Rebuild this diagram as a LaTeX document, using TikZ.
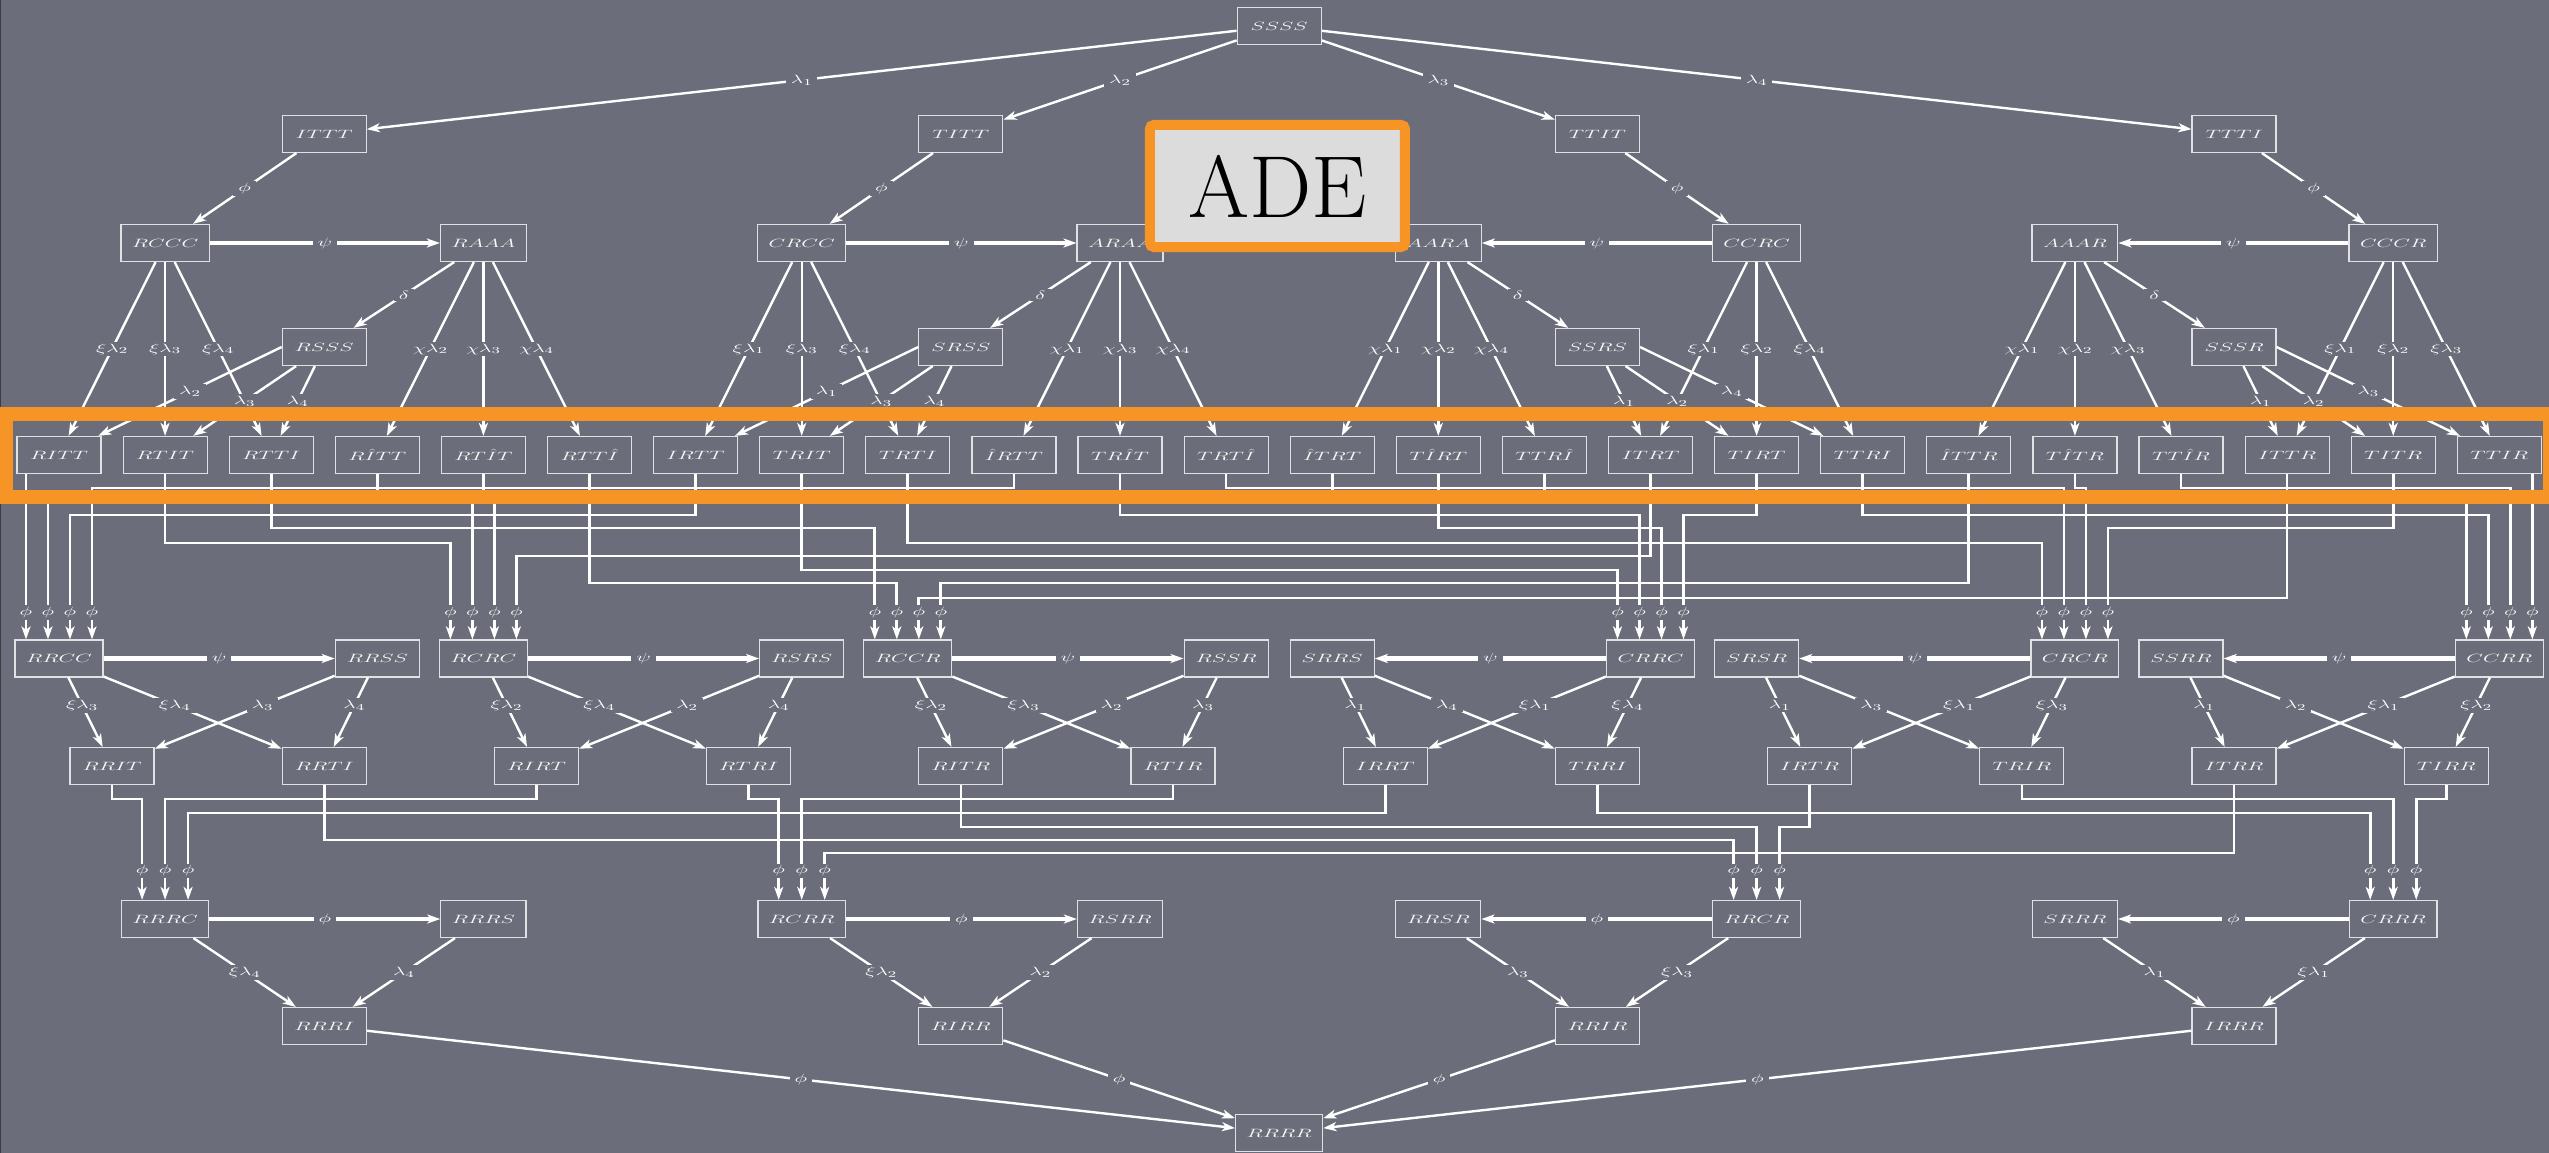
\documentclass[tikz,border=0pt]{standalone}
\usepackage{graphicx}
\usepackage{tikz}
\usetikzlibrary{arrows.meta}

\definecolor{bg}{RGB}{107,110,122}
\definecolor{frame}{RGB}{247,148,38}
\definecolor{boxline}{RGB}{225,225,228}
\definecolor{adefill}{RGB}{220,220,220}
\newcommand{\stx}[1]{\scalebox{1.8}[1]{$#1$}}

\begin{document}
\begin{tikzpicture}[x=106.1pt,y=-1pt,>={Stealth[length=13pt,width=9pt,inset=3.5pt]},
  cell/.style={draw=boxline,line width=1.2pt,text=white!95!bg,minimum width=84pt,minimum height=37pt,inner xsep=11pt,font=\fontsize{13}{15}\selectfont},
  lab/.style={fill=bg,text=white,inner xsep=5pt,inner ysep=2pt,font=\fontsize{13}{15}\selectfont},
  link/.style={->,white,line width=2.4pt},
  bold/.style={->,white,line width=4.4pt},
  wire/.style={->,white,line width=2.7pt},
  in5/.style={lab,inner xsep=3pt,yshift=27pt},
  in7/.style={lab,inner xsep=3pt,yshift=29pt}]

  \fill[bg] (-0.5561,0) rectangle (23.4684,1153);
  \useasboundingbox (-0.5561,0) rectangle (23.4684,1153);
  \draw[bg!55!black,line width=2pt] (-0.5561,0) -- (-0.5561,1153);

  % top
  \node[cell] (ssss) at (11.5,26)  {\stx{SSSS}};
  \node[cell] (ittt) at (2.5,134)  {\stx{ITTT}};
  \node[cell] (titt) at (8.5,134)  {\stx{TITT}};
  \node[cell] (ttit) at (14.5,134) {\stx{TTIT}};
  \node[cell] (ttti) at (20.5,134) {\stx{TTTI}};

  \node[cell] (rccc) at (1,243)  {\stx{RCCC}};
  \node[cell] (raaa) at (4,243)  {\stx{RAAA}};
  \node[cell] (crcc) at (7,243)  {\stx{CRCC}};
  \node[cell] (araa) at (10,243) {\stx{ARAA}};
  \node[cell] (aara) at (13,243) {\stx{AARA}};
  \node[cell] (ccrc) at (16,243) {\stx{CCRC}};
  \node[cell] (aaar) at (19,243) {\stx{AAAR}};
  \node[cell] (cccr) at (22,243) {\stx{CCCR}};

  \node[cell] (rsss) at (2.5,347)  {\stx{RSSS}};
  \node[cell] (srss) at (8.5,347)  {\stx{SRSS}};
  \node[cell] (ssrs) at (14.5,347) {\stx{SSRS}};
  \node[cell] (sssr) at (20.5,347) {\stx{SSSR}};

  % middle row
  \foreach \n/\t [count=\i from 0] in {ritt/RITT, rtit/RTIT, rtti/RTTI, rjtt/R\hat{I}TT,
      rtjt/RT\hat{I}T, rttj/RTT\hat{I}, irtt/IRTT, trit/TRIT, trti/TRTI, jrtt/\hat{I}RTT,
      trjt/TR\hat{I}T, trtj/TRT\hat{I}, jtrt/\hat{I}TRT, tjrt/T\hat{I}RT, ttrj/TTR\hat{I},
      itrt/ITRT, tirt/TIRT, ttri/TTRI, jttr/\hat{I}TTR, tjtr/T\hat{I}TR, ttjr/TT\hat{I}R,
      ittr/ITTR, titr/TITR, ttir/TTIR}
    \node[cell] (\n) at (\i,455) {\stx{\t}};

  % lower part
  \foreach \n/\t/\c in {rrcc/RRCC/0, rrss/RRSS/3, rcrc/RCRC/4, rsrs/RSRS/7, rccr/RCCR/8,
      rssr/RSSR/11, srrs/SRRS/12, crrc/CRRC/15, srsr/SRSR/16, crcr/CRCR/19,
      ssrr/SSRR/20, ccrr/CCRR/23}
    \node[cell] (\n) at (\c,658.5) {\stx{\t}};
  \foreach \n/\t/\c in {rrit/RRIT/.5, rrti/RRTI/2.5, rirt/RIRT/4.5, rtri/RTRI/6.5,
      ritr/RITR/8.5, rtir/RTIR/10.5, irrt/IRRT/12.5, trri/TRRI/14.5, irtr/IRTR/16.5,
      trir/TRIR/18.5, itrr/ITRR/20.5, tirr/TIRR/22.5}
    \node[cell] (\n) at (\c,766) {\stx{\t}};
  \foreach \n/\t/\c in {rrrc/RRRC/1, rrrs/RRRS/4, rcrr/RCRR/7, rsrr/RSRR/10,
      rrsr/RRSR/13, rrcr/RRCR/16, srrr/SRRR/19, crrr/CRRR/22}
    \node[cell] (\n) at (\c,919) {\stx{\t}};
  \node[cell] (rrri) at (2.5,1026)  {\stx{RRRI}};
  \node[cell] (rirr) at (8.5,1026)  {\stx{RIRR}};
  \node[cell] (rrir) at (14.5,1026) {\stx{RRIR}};
  \node[cell] (irrr) at (20.5,1026) {\stx{IRRR}};
  \node[cell] (rrrr) at (11.5,1133) {\stx{RRRR}};

  % inputs and tracks
  \foreach \n in {rrcc,rcrc,rccr,crrc,crcr,ccrr}
    \foreach \k/\d in {1/-33,2/-11,3/11,4/33}
      \coordinate (\n-\k) at ([xshift=\d pt]\n.north);
  \foreach \n in {rrrc,rcrr,rrcr,crrr}
    \foreach \k/\d in {1/-23,2/0,3/23}
      \coordinate (\n-\k) at ([xshift=\d pt]\n.north);
  \foreach \h in {488,497,515,528,543,556,570,583,598,799,813,827,840,853}
    \coordinate (h\h) at (0,\h);

  \path[link]
    (ssss) edge node[lab] {\stx{\lambda_1}} (ittt)
    (ssss) edge node[lab] {\stx{\lambda_2}} (titt)
    (ssss) edge node[lab] {\stx{\lambda_3}} (ttit)
    (ssss) edge node[lab] {\stx{\lambda_4}} (ttti)
    (ittt) edge node[lab] {\stx{\phi}} (rccc)
    (titt) edge node[lab] {\stx{\phi}} (crcc)
    (ttit) edge node[lab] {\stx{\phi}} (ccrc)
    (ttti) edge node[lab] {\stx{\phi}} (cccr)
    (raaa) edge node[lab] {\stx{\delta}} (rsss)
    (araa) edge node[lab] {\stx{\delta}} (srss)
    (aara) edge node[lab] {\stx{\delta}} (ssrs)
    (aaar) edge node[lab] {\stx{\delta}} (sssr)
    % first group
    (rccc) edge node[lab] {\stx{\xi\lambda_2}} (ritt)
    (rccc) edge node[lab] {\stx{\xi\lambda_3}} (rtit)
    (rccc) edge node[lab] {\stx{\xi\lambda_4}} (rtti)
    (raaa) edge node[lab] {\stx{\chi\lambda_2}} (rjtt)
    (raaa) edge node[lab] {\stx{\chi\lambda_3}} (rtjt)
    (raaa) edge node[lab] {\stx{\chi\lambda_4}} (rttj)
    (rsss.west) edge node[lab] {\stx{\lambda_2}} (ritt)
    (rsss) edge node[lab] {\stx{\lambda_3}} (rtit)
    (rsss) edge node[lab] {\stx{\lambda_4}} (rtti)
    % second group
    (crcc) edge node[lab] {\stx{\xi\lambda_1}} (irtt)
    (crcc) edge node[lab] {\stx{\xi\lambda_3}} (trit)
    (crcc) edge node[lab] {\stx{\xi\lambda_4}} (trti)
    (araa) edge node[lab] {\stx{\chi\lambda_1}} (jrtt)
    (araa) edge node[lab] {\stx{\chi\lambda_3}} (trjt)
    (araa) edge node[lab] {\stx{\chi\lambda_4}} (trtj)
    (srss.west) edge node[lab] {\stx{\lambda_1}} (irtt)
    (srss) edge node[lab] {\stx{\lambda_3}} (trit)
    (srss) edge node[lab] {\stx{\lambda_4}} (trti)
    % third group
    (aara) edge node[lab] {\stx{\chi\lambda_1}} (jtrt)
    (aara) edge node[lab] {\stx{\chi\lambda_2}} (tjrt)
    (aara) edge node[lab] {\stx{\chi\lambda_4}} (ttrj)
    (ccrc) edge node[lab] {\stx{\xi\lambda_1}} (itrt)
    (ccrc) edge node[lab] {\stx{\xi\lambda_2}} (tirt)
    (ccrc) edge node[lab] {\stx{\xi\lambda_4}} (ttri)
    (ssrs) edge node[lab] {\stx{\lambda_1}} (itrt)
    (ssrs) edge node[lab] {\stx{\lambda_2}} (tirt)
    (ssrs.east) edge node[lab] {\stx{\lambda_4}} (ttri)
    % fourth group
    (aaar) edge node[lab] {\stx{\chi\lambda_1}} (jttr)
    (aaar) edge node[lab] {\stx{\chi\lambda_2}} (tjtr)
    (aaar) edge node[lab] {\stx{\chi\lambda_3}} (ttjr)
    (cccr) edge node[lab] {\stx{\xi\lambda_1}} (ittr)
    (cccr) edge node[lab] {\stx{\xi\lambda_2}} (titr)
    (cccr) edge node[lab] {\stx{\xi\lambda_3}} (ttir)
    (sssr) edge node[lab] {\stx{\lambda_1}} (ittr)
    (sssr) edge node[lab] {\stx{\lambda_2}} (titr)
    (sssr.east) edge node[lab] {\stx{\lambda_3}} (ttir);

  \path[link]
    (rrcc) edge node[lab,pos=.4] {\stx{\xi\lambda_3}} (rrit)
    (rrcc) edge node[lab,pos=.4] {\stx{\xi\lambda_4}} (rrti)
    (rrss) edge node[lab,pos=.4] {\stx{\lambda_3}} (rrit)
    (rrss) edge node[lab,pos=.4] {\stx{\lambda_4}} (rrti)
    (rcrc) edge node[lab,pos=.4] {\stx{\xi\lambda_2}} (rirt)
    (rcrc) edge node[lab,pos=.4] {\stx{\xi\lambda_4}} (rtri)
    (rsrs) edge node[lab,pos=.4] {\stx{\lambda_2}} (rirt)
    (rsrs) edge node[lab,pos=.4] {\stx{\lambda_4}} (rtri)
    (rccr) edge node[lab,pos=.4] {\stx{\xi\lambda_2}} (ritr)
    (rccr) edge node[lab,pos=.4] {\stx{\xi\lambda_3}} (rtir)
    (rssr) edge node[lab,pos=.4] {\stx{\lambda_2}} (ritr)
    (rssr) edge node[lab,pos=.4] {\stx{\lambda_3}} (rtir)
    (srrs) edge node[lab,pos=.4] {\stx{\lambda_1}} (irrt)
    (srrs) edge node[lab,pos=.4] {\stx{\lambda_4}} (trri)
    (crrc) edge node[lab,pos=.4] {\stx{\xi\lambda_1}} (irrt)
    (crrc) edge node[lab,pos=.4] {\stx{\xi\lambda_4}} (trri)
    (srsr) edge node[lab,pos=.4] {\stx{\lambda_1}} (irtr)
    (srsr) edge node[lab,pos=.4] {\stx{\lambda_3}} (trir)
    (crcr) edge node[lab,pos=.4] {\stx{\xi\lambda_1}} (irtr)
    (crcr) edge node[lab,pos=.4] {\stx{\xi\lambda_3}} (trir)
    (ssrr) edge node[lab,pos=.4] {\stx{\lambda_1}} (itrr)
    (ssrr) edge node[lab,pos=.4] {\stx{\lambda_2}} (tirr)
    (ccrr) edge node[lab,pos=.4] {\stx{\xi\lambda_1}} (itrr)
    (ccrr) edge node[lab,pos=.4] {\stx{\xi\lambda_2}} (tirr)
    % bottom
    (rrrc) edge node[lab] {\stx{\xi\lambda_4}} (rrri)
    (rrrs) edge node[lab] {\stx{\lambda_4}} (rrri)
    (rcrr) edge node[lab] {\stx{\xi\lambda_2}} (rirr)
    (rsrr) edge node[lab] {\stx{\lambda_2}} (rirr)
    (rrsr) edge node[lab] {\stx{\lambda_3}} (rrir)
    (rrcr) edge node[lab] {\stx{\xi\lambda_3}} (rrir)
    (srrr) edge node[lab] {\stx{\lambda_1}} (irrr)
    (crrr) edge node[lab] {\stx{\xi\lambda_1}} (irrr)
    (rrri) edge node[lab] {\stx{\phi}} (rrrr)
    (rirr) edge node[lab] {\stx{\phi}} (rrrr)
    (rrir) edge node[lab] {\stx{\phi}} (rrrr)
    (irrr) edge node[lab] {\stx{\phi}} (rrrr);

  \path[bold]
    (rccc) edge node[lab] {\stx{\psi}} (raaa)
    (crcc) edge node[lab] {\stx{\psi}} (araa)
    (ccrc) edge node[lab] {\stx{\psi}} (aara)
    (cccr) edge node[lab] {\stx{\psi}} (aaar)
    (rrcc) edge node[lab] {\stx{\psi}} (rrss)
    (rcrc) edge node[lab] {\stx{\psi}} (rsrs)
    (rccr) edge node[lab] {\stx{\psi}} (rssr)
    (crrc) edge node[lab] {\stx{\psi}} (srrs)
    (crcr) edge node[lab] {\stx{\psi}} (srsr)
    (ccrr) edge node[lab] {\stx{\psi}} (ssrr)
    (rrrc) edge node[lab] {\stx{\phi}} (rrrs)
    (rcrr) edge node[lab] {\stx{\phi}} (rsrr)
    (rrcr) edge node[lab] {\stx{\phi}} (rrsr)
    (crrr) edge node[lab] {\stx{\phi}} (srrr);

  % wiring from the middle row
  \draw[wire] (ritt.south -| rrcc-1) -- (rrcc-1) node[in5] {\stx{\phi}};
  \draw[wire] (ttir.south -| ccrr-4) -- (ccrr-4) node[in5] {\stx{\phi}};
  \foreach \s/\t/\h in {rjtt/rrcc-2/497, irtt/rrcc-3/515, jrtt/rrcc-4/488,
      rtit/rcrc-1/543, rtjt/rcrc-2/497, jtrt/rcrc-3/497, itrt/rcrc-4/556,
      rtti/rccr-1/528, rttj/rccr-2/583, ittr/rccr-3/598, jttr/rccr-4/583,
      trit/crrc-1/570, trjt/crrc-2/515, tjrt/crrc-3/528, tirt/crrc-4/515,
      trti/crcr-1/543, trtj/crcr-2/488, tjtr/crcr-3/488, titr/crcr-4/528,
      ttrj/ccrr-1/497, ttri/ccrr-2/515, ttjr/ccrr-3/488}
    \draw[wire] (\s.south) |- (h\h -| \t) -- (\t) node[in5] {\stx{\phi}};

  \foreach \s/\t/\h in {rrit/rrrc-1/799, rirt/rrrc-2/799, irrt/rrrc-3/813,
      rtri/rcrr-1/799, rtir/rcrr-2/799, itrr/rcrr-3/853,
      rrti/rrcr-1/840, ritr/rrcr-2/827, irtr/rrcr-3/827,
      trri/crrr-1/813, trir/crrr-2/799, tirr/crrr-3/799}
    \draw[wire] (\s.south) |- (h\h -| \t) -- (\t) node[in7] {\stx{\phi}};

  % highlight
  \draw[frame,line width=13.5pt] (-0.4948,414) rectangle (23.473,497);
  \node[draw=frame,line width=10pt,fill=adefill,rounded corners=4pt,minimum width=255pt,
        minimum height=122pt,inner sep=0pt,font=\fontsize{88}{95}\selectfont] (ade) at (11.484,186) {ADE};
\end{tikzpicture}
\end{document}
